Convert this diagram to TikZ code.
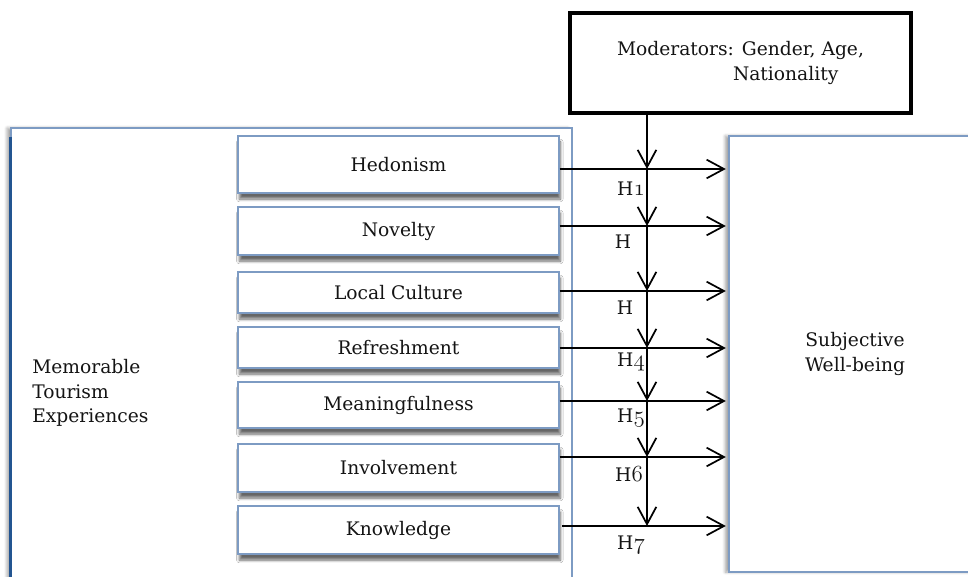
\documentclass[tikz,border=0pt]{standalone}
\usepackage{fontspec}
\setmainfont{DejaVu Serif}
\usetikzlibrary{arrows.meta,shadows.blur}
\newcommand\osnum[1]{{\fontsize{17}{18}\usefont{OML}{cmm}{m}{it}#1}}
\definecolor{boxblue}{RGB}{125,155,195}
\definecolor{darkblue}{RGB}{35,85,145}
\definecolor{txt}{RGB}{20,20,20}
\begin{document}
\begin{tikzpicture}[x=0.75pt,y=-0.75pt,
  font=\fontsize{14}{18.5}\selectfont, text=txt,
  bigbox/.style={draw=boxblue, line width=0.8pt, fill=white, inner sep=0pt,
    blur shadow={shadow xshift=-3pt, shadow yshift=0pt, shadow opacity=35, shadow blur steps=6}},
  inbox/.style={draw=boxblue, line width=0.8pt, fill=white, inner sep=0pt,
    minimum width=240.75pt,
    blur shadow={shadow xshift=1pt, shadow yshift=-4.5pt, shadow opacity=60, shadow blur steps=6}},
  modbox/.style={draw=black, line width=3pt, fill=white, inner sep=0pt,
    minimum width=255.75pt, minimum height=75pt, align=left},
  arr/.style={line width=1.3pt, -{Straight Barb[length=13pt,width=14pt,line width=1.3pt]}},
  hlab/.style={inner sep=0pt}
]
\useasboundingbox (0,0) rectangle (968,577);

% big boxes
\node[bigbox, minimum width=420.75pt, minimum height=340.5pt] (mte) at (291.5,355) {};
\draw[darkblue, line width=1.6pt] ([yshift=-7pt]mte.north west) -- (mte.south west);
\node[anchor=west, align=left, inner sep=0pt] (mtelbl) at (32,393) {Memorable\\Tourism\\Experiences};

\node[bigbox, minimum width=189pt, minimum height=327pt, align=center] (swb) at (855,354) {Subjective\\Well-being};

% inner boxes
\node[inbox, minimum height=42.75pt] (hed) at (398.5,164.5) {Hedonism};
\node[inbox, minimum height=36pt]    (nov) at (398.5,231) {Novelty};
\node[inbox, minimum height=30.75pt] (loc) at (398.5,292.5) {Local Culture};
\node[inbox, minimum height=30.75pt] (ref) at (398.5,347.5) {Refreshment};
\node[inbox, minimum height=34.5pt]  (mea) at (398.5,405) {Meaningfulness};
\node[inbox, minimum height=36pt]    (inv) at (398.5,468) {Involvement};
\node[inbox, minimum height=36pt]    (kno) at (398.5,530) {Knowledge};

% moderator box
\node[modbox] (mod) at (740.5,63) {Moderators: Gender, Age,\\\hspace*{87pt}Nationality};

% junctions
\coordinate (j1) at (647,169);
\coordinate (j2) at (647,226);
\coordinate (j3) at (647,291);
\coordinate (j4) at (647,348);
\coordinate (j5) at (647,401);
\coordinate (j6) at (647,457);
\coordinate (j7) at (647,526);

% horizontal arrows
\draw[arr, shorten >=2pt] (hed.east |- j1) -- (swb.west |- j1);
\draw[arr, shorten >=2pt] (nov.east |- j2) -- (swb.west |- j2);
\draw[arr, shorten >=2pt] (loc.east |- j3) -- (swb.west |- j3);
\draw[arr, shorten >=2pt] (ref.east |- j4) -- (swb.west |- j4);
\draw[arr, shorten >=2pt] (mea.east |- j5) -- (swb.west |- j5);
\draw[arr, shorten >=2pt] (inv.east |- j6) -- (swb.west |- j6);
\draw[arr, shorten >=2pt] ([xshift=2pt]kno.east |- j7) -- (swb.west |- j7);

% vertical arrows
\draw[arr] (mod.south -| j1) -- (j1);
\draw[arr] (j1) -- (j2);
\draw[arr] (j2) -- (j3);
\draw[arr] (j3) -- (j4);
\draw[arr] (j4) -- (j5);
\draw[arr] (j5) -- (j6);
\draw[arr] (j6) -- (j7);

% labels
\node[hlab] (h1) at (631,189) {H\osnum{1}};
\node[hlab] (h2) at (623,242) {H};
\node[hlab] (h3) at (625,308) {H};
\node[hlab] (h4) at (631,362) {H\osnum{4}};
\node[hlab] (h5) at (631,418) {H\osnum{5}};
\node[hlab] (h6) at (629,474) {H\osnum{6}};
\node[hlab] (h7) at (631,545) {H\osnum{7}};
\end{tikzpicture}
\end{document}
